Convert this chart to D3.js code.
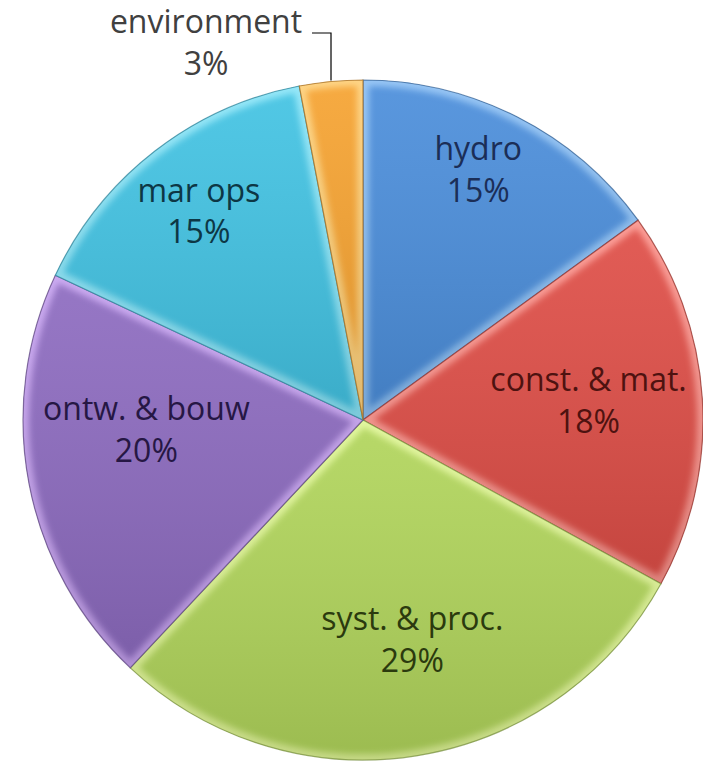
<!DOCTYPE html>
<html>
<head>
<meta charset="utf-8">
<script src="https://cdn.jsdelivr.net/npm/d3@7"></script>
<style>
	body { margin: 0; background: #fff; }
	svg { display: block; }
	text { font-family: "Open Sans", sans-serif; }
</style>
</head>
<body>
<svg id="pieGraph" width="703" height="764"></svg>
<script>
'use strict';

var categories = ["hydro", "const. & mat.", "syst. & proc.", "ontw. & bouw", "mar ops", "environment"];
var shares = [15, 18, 29, 20, 15, 3];
var fills = ["#4b8edb", "#df4e47", "#b1d55b", "#8d6bc0", "#42c3e3", "#f6a331"];
var lights = ["#96c6f7", "#ff9f97", "#e6fa9e", "#cdaaf5", "#95e9f9", "#ffd684"];
var textColors = ["#1b2e57", "#4e1210", "#2b3a0e", "#261744", "#0d3745", "#404040"];

var svgWidth = 703;
var svgHeight = 764;
var cx = 363, cy = 420;
var radius = 340;
var fontSize = 32;

// best-fit nudges of the inside labels, in px from the label centroid
var labelNudge = {
	"hydro": [4, -32],
	"const. & mat.": [-19, -4],
	"syst. & proc.": [11, -22],
	"ontw. & bouw": [24, -36],
	"mar ops": [-14, -15]
};

var svg = d3.select("#pieGraph");
var defs = svg.append("defs");

defs.append("filter")
	.attr("id", "soft")
	.append("feGaussianBlur")
	.attr("stdDeviation", 3);

var shade = defs.append("linearGradient")
	.attr("id", "shade")
	.attr("x1", 0).attr("y1", 0).attr("x2", 0).attr("y2", 1);
shade.append("stop").attr("offset", "0%").attr("stop-color", "#fff").attr("stop-opacity", 0.08);
shade.append("stop").attr("offset", "100%").attr("stop-color", "#000").attr("stop-opacity", 0.12);

var pie = d3.pie()
	.sort(null)
	.value(function(d) { return d; });

var arc = d3.arc()
	.innerRadius(0)
	.outerRadius(radius);

var labelArc = d3.arc()
	.innerRadius(245)
	.outerRadius(245);

var arcs = pie(shares);

var g = svg.append("g")
	.attr("transform", "translate(" + cx + "," + cy + ")");

arcs.forEach(function(d, i) {
	defs.append("clipPath")
		.attr("id", "clip" + i)
		.append("path")
		.attr("d", arc(d));
});

var slices = g.selectAll("g.slice")
	.data(arcs)
	.enter()
	.append("g")
	.attr("class", "slice");

slices.append("path")
	.attr("d", arc)
	.style("fill", function(d, i) { return fills[i]; });

// bevel highlight along the slice edges
slices.append("path")
	.attr("d", arc)
	.attr("clip-path", function(d, i) { return "url(#clip" + i + ")"; })
	.attr("filter", "url(#soft)")
	.style("fill", "none")
	.style("stroke", function(d, i) { return lights[i]; })
	.style("stroke-width", 12)
	.style("stroke-opacity", 0.9);

slices.append("path")
	.attr("d", arc)
	.style("fill", "url(#shade)");

slices.append("path")
	.attr("d", arc)
	.style("fill", "none")
	.style("stroke", function(d, i) { return d3.color(fills[i]).darker(1.2); })
	.style("stroke-width", 1.2)
	.style("stroke-opacity", 0.7);

// labels inside the slices
var inside = arcs.filter(function(d) { return d.value > 5; });

var labels = g.selectAll("text.label")
	.data(inside)
	.enter()
	.append("text")
	.attr("class", "label")
	.attr("text-anchor", "middle")
	.attr("transform", function(d) {
		var c = labelArc.centroid(d);
		var n = labelNudge[categories[d.index]] || [0, 0];
		return "translate(" + (c[0] + n[0]) + "," + (c[1] + n[1]) + ")";
	})
	.style("font-size", fontSize + "px")
	.style("fill", function(d) { return textColors[d.index]; });

labels.append("tspan")
	.attr("x", 0)
	.attr("dy", "-0.3em")
	.text(function(d) { return categories[d.index]; });

labels.append("tspan")
	.attr("x", 0)
	.attr("dy", "1.3em")
	.text(function(d) { return d.value + "%"; });

// small slice: label outside with leader line
var small = arcs.filter(function(d) { return d.value <= 5; });

small.forEach(function(d) {
	var mid = (d.startAngle + d.endAngle) / 2;
	var rim = [Math.sin(mid) * radius, -Math.cos(mid) * radius];
	var elbowY = 33 - cy;
	g.append("path")
		.attr("d", "M" + rim[0] + "," + (rim[1] - 1) + "V" + elbowY + "H" + (rim[0] - 19))
		.style("fill", "none")
		.style("stroke", "#000")
		.style("stroke-width", 1.2);

	var t = g.append("text")
		.attr("text-anchor", "middle")
		.attr("transform", "translate(" + (rim[0] - 125) + "," + (elbowY + 9.5) + ")")
		.style("font-size", fontSize + "px")
		.style("fill", textColors[d.index]);
	t.append("tspan").attr("x", 0).attr("dy", "-0.3em").text(categories[d.index]);
	t.append("tspan").attr("x", 0).attr("dy", "1.3em").text(d.value + "%");
});
</script>
</body>
</html>
